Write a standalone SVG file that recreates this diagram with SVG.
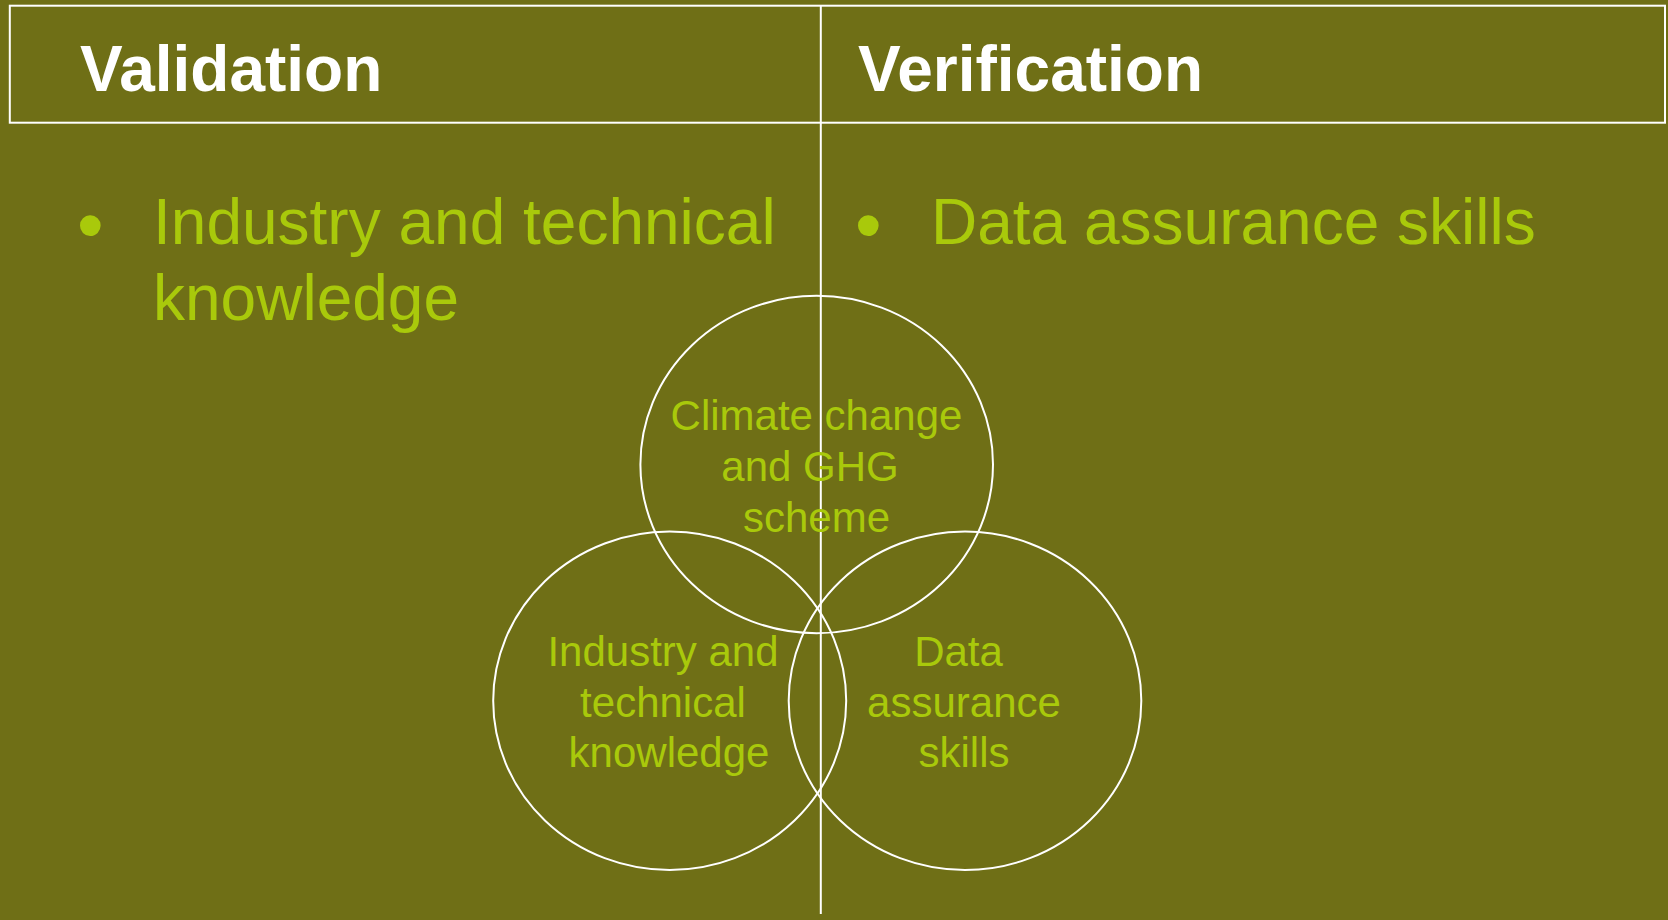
<svg xmlns="http://www.w3.org/2000/svg" width="1668" height="920" viewBox="0 0 1668 920">
<style>
.head{font-family:"Liberation Sans",Arial,sans-serif;font-weight:bold;font-size:64px;fill:#ffffff}
.bul{font-family:"Liberation Sans",Arial,sans-serif;font-size:64px;fill:#a9c90b}
.dot{font-family:"Liberation Sans",Arial,sans-serif;font-size:76px;fill:#a9c90b}
.lbl{font-family:"Liberation Sans",Arial,sans-serif;font-size:42px;fill:#a9c90b;text-anchor:middle}
.ln{stroke:#ffffff;stroke-width:2;fill:none}
</style>
<rect x="0" y="0" width="1668" height="920" fill="#6f6f16"/>
<g id="header">
<rect class="ln" x="9.8" y="5.7" width="1655.2" height="117"/>
<text class="head" x="80" y="91">Validation</text>
<text class="head" x="858" y="91">Verification</text>
</g>
<g id="connectors">
<line class="ln" x1="820.8" y1="5.7" x2="820.8" y2="914"/>
</g>
<g id="validation-list">
<text class="dot" x="77" y="251">•</text>
<text class="bul" x="153" y="244">Industry and technical</text>
<text class="bul" x="153" y="320">knowledge</text>
</g>
<g id="verification-list">
<text class="dot" x="855" y="251">•</text>
<text class="bul" x="931" y="244">Data assurance skills</text>
</g>
<g id="circle-climate">
<ellipse class="ln" cx="816.7" cy="464.5" rx="176.3" ry="168.7"/>
<text class="lbl" x="816.5" y="430">Climate change</text>
<text class="lbl" x="810" y="481">and GHG</text>
<text class="lbl" x="816.5" y="532">scheme</text>
</g>
<g id="circle-industry">
<ellipse class="ln" cx="669.7" cy="700.8" rx="176.5" ry="169.2"/>
<text class="lbl" x="663" y="666">Industry and</text>
<text class="lbl" x="663" y="717">technical</text>
<text class="lbl" x="669" y="767">knowledge</text>
</g>
<g id="circle-data">
<ellipse class="ln" cx="965" cy="700.8" rx="176.3" ry="169.2"/>
<text class="lbl" x="958.5" y="666">Data</text>
<text class="lbl" x="964" y="717">assurance</text>
<text class="lbl" x="964" y="767">skills</text>
</g>
</svg>
